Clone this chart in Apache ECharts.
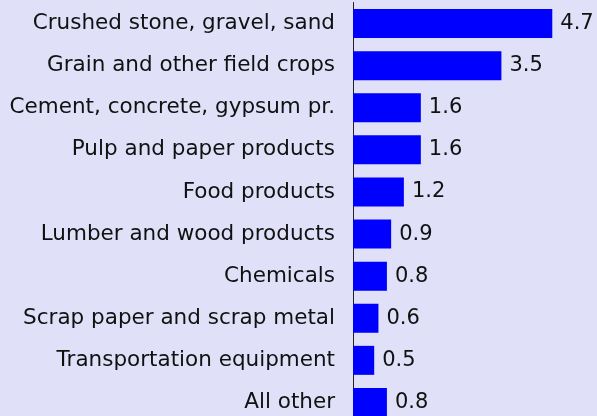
<!DOCTYPE html>
<html>
<head>
<meta charset="utf-8">
<script src="https://cdn.jsdelivr.net/npm/echarts@6/dist/echarts.min.js"></script>
<style>
  html, body { margin: 0; padding: 0; background: #e0e0f8; }
  #main { width: 597px; height: 416px; }
</style>
</head>
<body>
<div id="main"></div>
<script>
// commodity groups, top to bottom
const categories = [
  'Crushed stone, gravel, sand',
  'Grain and other field crops',
  'Cement, concrete, gypsum pr.',
  'Pulp and paper products',
  'Food products',
  'Lumber and wood products',
  'Chemicals',
  'Scrap paper and scrap metal',
  'Transportation equipment',
  'All other'
];
const values = [4.7, 3.5, 1.6, 1.6, 1.2, 0.9, 0.8, 0.6, 0.5, 0.8];

const chart = echarts.init(document.getElementById('main'));
chart.setOption({
  backgroundColor: '#e0e0f8',
  animation: false,
  // last band runs past the bottom edge, as in the source picture
  grid: {
    left: 353, width: 212, top: 2.5, height: 421,
    containLabel: false,
    outerBoundsMode: 'none'
  },
  xAxis: {
    type: 'value',
    min: 0,
    max: 5,
    show: false
  },
  yAxis: {
    type: 'category',
    data: categories,
    inverse: true,
    axisLine: { show: true, lineStyle: { color: '#222', width: 1 } },
    axisTick: { show: false },
    splitLine: { show: false },
    axisLabel: {
      margin: 18,
      color: '#111',
      fontSize: 21.5,
      fontFamily: 'DejaVu Sans'
    }
  },
  series: [{
    type: 'bar',
    data: values,
    barWidth: 29,
    itemStyle: { color: '#0000ff' },
    label: {
      show: true,
      position: 'right',
      distance: 8,
      color: '#111',
      fontSize: 21,
      fontFamily: 'DejaVu Sans',
      formatter: p => p.value.toFixed(1)
    }
  }]
});
</script>
</body>
</html>
